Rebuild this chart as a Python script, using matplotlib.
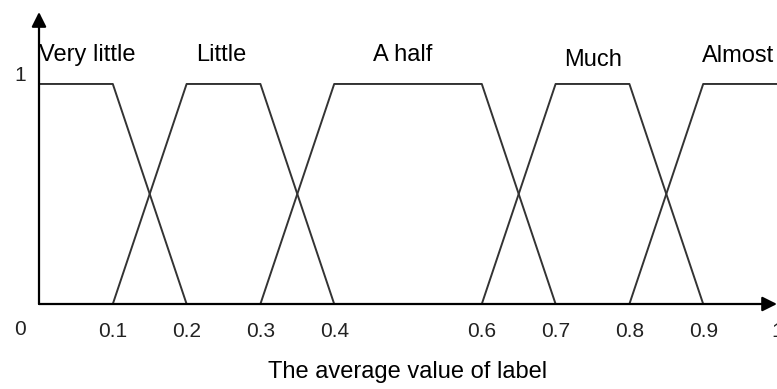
import matplotlib.pyplot as plt

plt.rcParams['font.family'] = ['Liberation Sans', 'DejaVu Sans']

# trapezoid membership functions (x breakpoints, membership values)
names = ['Very little', 'Little', 'A half', 'Much', 'Almost']
xs = [
    [0.0, 0.1, 0.2],
    [0.1, 0.2, 0.3, 0.4],
    [0.3, 0.4, 0.6, 0.7],
    [0.6, 0.7, 0.8, 0.9],
    [0.8, 0.9, 1.0],
]
ys = [
    [1, 1, 0],
    [0, 1, 1, 0],
    [0, 1, 1, 0],
    [0, 1, 1, 0],
    [0, 1, 1],
]
# where the set names sit
name_x = [0.0, 0.247, 0.493, 0.751, 0.898]
name_y = [1.13, 1.13, 1.13, 1.11, 1.127]
name_ha = ['left', 'center', 'center', 'center', 'left']

tick_vals = [0.1, 0.2, 0.3, 0.4, 0.6, 0.7, 0.8, 0.9, 1.0]
tick_labels = ['0.1', '0.2', '0.3', '0.4', '0.6', '0.7', '0.8', '0.9', '1']

fig = plt.figure(figsize=(7.77, 3.89), dpi=100)
ax = fig.add_axes([0.0502, 0.2185, 0.9498, 0.7506])
ax.set_xlim(0, 1.0)
ax.set_ylim(0, 1.327)

for x, y in zip(xs, ys):
    ax.plot(x, y, color='#333333', lw=1.4, clip_on=False, solid_capstyle='butt')

for n, x, y, ha in zip(names, name_x, name_y, name_ha):
    ax.text(x, y, n, ha=ha, va='center', fontsize=17, color='black')

# axes with arrows
for s in ax.spines.values():
    s.set_visible(False)
ax.annotate('', xy=(1.0, 0), xytext=(0, 0),
            arrowprops=dict(arrowstyle='-|>', color='black', lw=1.6, mutation_scale=22,
                            shrinkA=0, shrinkB=0), annotation_clip=False)
ax.annotate('', xy=(0, 1.327), xytext=(0, 0),
            arrowprops=dict(arrowstyle='-|>', color='black', lw=1.6, mutation_scale=22,
                            shrinkA=0, shrinkB=0), annotation_clip=False)

ax.set_xticks(tick_vals, tick_labels)
ax.set_yticks([])
ax.tick_params(axis='x', length=0, pad=13, labelsize=15, labelcolor='#222222')
ax.text(-0.026, -0.118, '0', ha='center', va='center', fontsize=15, color='#222222')
ax.text(-0.026, 1.04, '1', ha='center', va='center', fontsize=15, color='#222222')

ax.set_xlabel('The average value of label', fontsize=17, labelpad=14)

fig.savefig('out.png', dpi=100)
